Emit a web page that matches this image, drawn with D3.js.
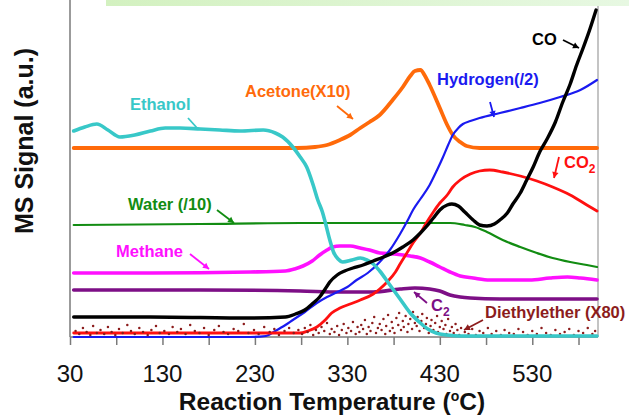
<!DOCTYPE html>
<html>
<head>
<meta charset="utf-8">
<script src="https://cdn.jsdelivr.net/npm/d3@7"></script>
<style>
  html, body { margin: 0; padding: 0; background: #fff; overflow: hidden; }
  svg { display: block; font-family: "Liberation Sans", Arial, sans-serif; }
</style>
</head>
<body>
<svg id="chart" width="629" height="415"></svg>
<script>
// Temperature-programmed reaction: MS signals (a.u.) vs reaction temperature (°C)
const xTickLabels = [30, 130, 230, 330, 430, 530];
const xTickMarks = [30, 80, 130, 180, 230, 280, 330, 380, 430, 480, 530, 580];

const ethanol = [
  [34,206],[46,210],[59,213],[71,207],[84,200],[100,202],[117,206],[133,209],[149,209],
  [171,208],[192,207],[214,206],[239,207],[252,204],[260,200],[271,190],[279,180],
  [286,170],[293,152],[298,137],[303,125],[306,115],[311,97],[315,85],[320,78],[325,75],
  [335,77],[344,79],[351,77],[358,73],[365,66],[376,52],[387,38],[398,24],[409,14],
  [417,8],[426,4],[438,2],[452,1],[495,1],[600,1]
];
const acetone = [
  [34,189],[84,189],[171,189],[276,189],[295,190],[308,192],[322,197],[333,202],[344,209],
  [354,215],[365,222],[379,237],[390,250],[398,261],[403,266],[409,267],[414,261],[419,252],
  [430,229],[438,212],[444,202],[452,195],[459,191],[473,189],[600,189]
];
const hydrogen = [
  [34,0],[117,0],[225,0],[242,1],[252,6],[263,12],[271,17],[284,25],[297,34],[308,40],
  [319,45],[330,50],[340,57],[352,64],[365,75],[376,87],[387,103],[396,118],[401,127],
  [409,138],[419,152],[427,167],[433,179],[439,192],[444,202],[450,209],[455,213],[463,216],
  [473,219],[495,224],[517,229],[538,234],[560,240],[582,247],[600,257]
];
const co = [
  [34,20],[117,20],[225,19],[263,20],[274,23],[284,27],[293,34],[300,40],[306,48],[311,55],
  [319,62],[327,66],[336,69],[347,72],[358,76],[369,80],[379,84],[390,90],[401,97],[409,104],
  [416,111],[423,119],[430,127],[438,132],[443,133],[450,131],[457,125],[466,117],[473,112],
  [481,111],[489,113],[495,117],[503,124],[509,133],[517,144],[524,157],[531,170],[538,185],
  [546,198],[555,215],[563,235],[571,253],[578,272],[585,289],[592,307],[599,327]
];
const co2 = [
  [34,4],[171,4],[279,4],[287,6],[297,10],[306,17],[313,24],[322,29],[333,33],[344,37],
  [358,43],[365,48],[373,55],[382,65],[387,73],[395,85],[401,94],[409,104],[416,115],
  [423,125],[430,134],[438,142],[444,150],[452,157],[463,163],[473,166],[484,167],[498,165],
  [517,161],[535,156],[552,150],[571,142],[589,132],[600,126]
];
const water = [
  [34,112],[171,113],[279,114],[387,114],[441,114],[457,112],[468,110],[481,105],[498,97],
  [517,90],[535,84],[552,79],[571,75],[589,72],[600,70]
];
const methane = [
  [34,64],[117,64],[225,65],[263,66],[273,68],[282,71],[292,76],[300,82],[308,87],[314,90],
  [322,91],[333,91],[344,89],[354,87],[365,84],[381,83],[398,81],[409,79],[419,75],[430,70],
  [441,65],[452,61],[466,59],[484,57],[506,57],[527,57],[549,59],[568,60],[582,59],[600,57]
];
const c2 = [
  [34,47],[171,47],[279,46],[322,45],[358,45],[387,48],[403,49],[419,48],[430,46],[441,42],
  [452,40],[463,39],[495,38],[600,38]
];
const diethylether = [
  [36,6],[40,3],[44,9],[48,5],[52,2],[55,11],[59,4],[63,7],[67,3],[71,10],[75,5],[79,2],
  [83,8],[87,4],[92,12],[96,6],[100,3],[105,9],[109,5],[114,2],[118,7],[123,11],[127,4],
  [132,6],[137,3],[141,10],[146,5],[150,8],[155,3],[160,12],[165,6],[170,4],[175,9],[180,2],
  [186,7],[191,11],[196,5],[201,3],[207,8],[212,6],[218,13],[223,4],[229,7],[234,3],[240,10],
  [246,5],[251,8],[256,2],[262,6],[267,9],[272,4],[277,7],
  [281,3],[284,9],[287,5],[290,12],[293,2],[296,7],[299,4],[302,10],[305,6],[308,14],[311,3],
  [313,8],[316,5],[319,11],[321,2],[324,7],[326,13],[329,4],[331,9],[334,6],[336,15],[339,3],
  [341,10],
  [343,5],[345,12],[347,8],[349,17],[351,3],[353,10],[355,6],[357,14],[359,20],[361,4],
  [363,9],[365,13],[367,7],[369,18],[371,3],[372,11],[374,22],[376,6],[378,15],[379,9],
  [381,4],[383,19],[385,12],[386,24],[388,7],[390,16],[391,10],[393,21],[395,5],[396,13],
  [398,18],[400,8],[401,25],[403,14],[405,11],[406,20],[408,6],[410,16],[411,23],[413,9],
  [415,13],[416,19],[418,4],[420,11],[421,17],[423,7],[425,14],[427,21],[428,5],[430,10],
  [432,16],[434,8],[436,12],[437,3],[439,18],[441,6],[443,10],[445,4],[447,13],[449,7],
  [451,2],[453,9],
  [457,5],[461,3],[465,8],[469,2],[473,6],[477,4],[482,9],[486,3],[491,6],[496,2],[500,7],
  [505,4],[510,3],[515,8],[520,5],[525,2],[530,6],[535,3],[540,9],[545,4],[550,2],[555,7],
  [560,3],[565,5],[570,8],[575,2],[580,6],[585,4],[590,9],[595,3],[598,6]
];

const colors = {
  ethanol: "#38c8c8", acetone: "#ff6a0a", hydrogen: "#1a1af0", co: "#000000",
  co2: "#ff1010", water: "#128c12", methane: "#ff10ff", c2: "#7d0f86", ether: "#8c1c1c"
};

const svg = d3.select("#chart");
const x = d3.scaleLinear().domain([30, 600]).range([70, 597]);
const y = d3.scaleLinear().domain([0, 330]).range([337, 7]);

// light green banner strip along the top
const defs = svg.append("defs");
const grad = defs.append("linearGradient").attr("id", "banner").attr("x1", 0).attr("x2", 1);
grad.append("stop").attr("offset", "0%").attr("stop-color", "#d3f1c0");
grad.append("stop").attr("offset", "100%").attr("stop-color", "#e7f8e2");
svg.append("rect").attr("x", 106).attr("y", 0).attr("width", 523).attr("height", 6)
  .attr("fill", "url(#banner)");

// right frame edge
svg.append("line").attr("x1", 598).attr("x2", 598).attr("y1", 6).attr("y2", 337)
  .attr("stroke", "#c4c4c4").attr("stroke-width", 2);

// x axis
const xAxis = d3.axisBottom(x).tickValues(xTickMarks).tickSize(8).tickFormat("");
const gx = svg.append("g").attr("transform", "translate(0,337)").call(xAxis);
gx.select(".domain").attr("stroke", "#7a7a7a").attr("stroke-width", 1.5)
  .attr("d", `M${x(30)},0H598`);
gx.selectAll(".tick line").attr("stroke", "#7a7a7a").attr("stroke-width", 1.5);

svg.append("g").selectAll("text").data(xTickLabels).join("text")
  .attr("x", d => x(d)).attr("y", 382).attr("text-anchor", "middle")
  .attr("font-size", 24).attr("fill", "#111").text(d => d);

// y axis line
svg.append("line").attr("x1", 70).attr("x2", 70).attr("y1", 0).attr("y2", 337)
  .attr("stroke", "#7a7a7a").attr("stroke-width", 1.5);

// axis titles
const xt = svg.append("text").attr("x", 332).attr("y", 410).attr("text-anchor", "middle")
  .attr("font-size", 24.5).attr("font-weight", "bold").attr("fill", "#111");
xt.append("tspan").text("Reaction Temperature (");
xt.append("tspan").attr("font-size", 14).attr("dy", -9).text("o");
xt.append("tspan").attr("dy", 9).text("C)");

svg.append("text").attr("transform", "translate(33,141) rotate(-90)")
  .attr("text-anchor", "middle").attr("font-size", 25).attr("font-weight", "bold")
  .attr("fill", "#111").text("MS Signal (a.u.)");

// signal traces
const line = d3.line().x(d => x(d[0])).y(d => y(d[1])).curve(d3.curveMonotoneX);
const traces = [
  { data: water, color: colors.water, w: 2.2 },
  { data: c2, color: colors.c2, w: 3.6 },
  { data: methane, color: colors.methane, w: 3.6 },
  { data: acetone, color: colors.acetone, w: 3.8 },
  { data: hydrogen, color: colors.hydrogen, w: 2.2 },
  { data: co2, color: colors.co2, w: 2.8 }
];
traces.forEach(t => {
  svg.append("path").datum(t.data).attr("d", line).attr("fill", "none")
    .attr("stroke", t.color).attr("stroke-width", t.w)
    .attr("stroke-linejoin", "round").attr("stroke-linecap", "round");
});

// diethylether (X80) scattered points
svg.append("g").selectAll("circle").data(diethylether).join("circle")
  .attr("cx", d => x(d[0])).attr("cy", d => y(d[1])).attr("r", 1.25)
  .attr("fill", colors.ether);

[{ data: ethanol, color: colors.ethanol, w: 3.6 }, { data: co, color: colors.co, w: 3.4 }]
  .forEach(t => {
    svg.append("path").datum(t.data).attr("d", line).attr("fill", "none")
      .attr("stroke", t.color).attr("stroke-width", t.w)
      .attr("stroke-linejoin", "round").attr("stroke-linecap", "round");
  });

// annotations: label text and pointer lines
function label(px, py, color, parts) {
  const t = svg.append("text").attr("x", px).attr("y", py).attr("font-size", 16.5)
    .attr("font-weight", "bold").attr("fill", color);
  parts.forEach(p => {
    const s = t.append("tspan").text(p.text);
    if (p.sub) s.attr("font-size", 12).attr("dy", 5);
  });
}
function pointer(x1, y1, x2, y2, color, head) {
  svg.append("line").attr("x1", x1).attr("y1", y1).attr("x2", x2).attr("y2", y2)
    .attr("stroke", color).attr("stroke-width", 1.8);
  if (head) {
    const a = Math.atan2(y2 - y1, x2 - x1), L = 6, H = 3.2;
    const bx = x2 - L * Math.cos(a), by = y2 - L * Math.sin(a);
    const pts = [[x2, y2],
      [bx + H * Math.sin(a), by - H * Math.cos(a)],
      [bx - H * Math.sin(a), by + H * Math.cos(a)]];
    svg.append("polygon").attr("points", pts.map(p => p.join(",")).join(" ")).attr("fill", color);
  }
}

label(130, 110, colors.ethanol, [{ text: "Ethanol" }]);
pointer(188, 118, 198, 129, colors.ethanol, false);

label(245, 97, colors.acetone, [{ text: "Acetone(X10)" }]);
pointer(337, 106, 353, 119, colors.acetone, true);

label(437, 85, colors.hydrogen, [{ text: "Hydrogen(/2)" }]);
pointer(490, 102, 494, 117, colors.hydrogen, true);

label(532, 45, colors.co, [{ text: "CO" }]);
pointer(563, 40, 579, 48, colors.co, true);

label(564, 168, colors.co2, [{ text: "CO" }, { text: "2", sub: true }]);
pointer(559, 157, 554, 178, colors.co2, true);

label(128, 210, colors.water, [{ text: "Water (/10)" }]);
pointer(217, 210, 234, 223, colors.water, true);

label(116, 257, colors.methane, [{ text: "Methane" }]);
pointer(190, 254, 209, 269, colors.methane, true);

label(431, 311, colors.c2, [{ text: "C" }, { text: "2", sub: true }]);
pointer(427, 303, 414, 292, colors.c2, true);

label(485, 318, colors.ether, [{ text: "Diethylether (X80)" }]);
pointer(483, 320, 464, 330, colors.ether, true);
</script>
</body>
</html>
